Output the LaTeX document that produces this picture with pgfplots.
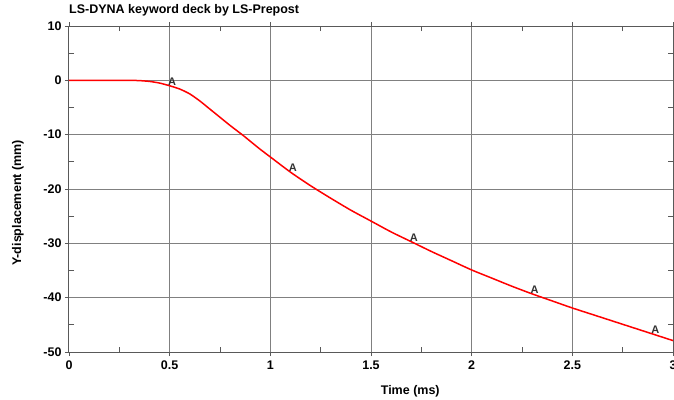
\documentclass[border=0pt]{standalone}
\usepackage{fontspec}
\setmainfont{Liberation Sans}
\usepackage{pgfplots}
\pgfplotsset{compat=1.18}
\begin{document}
\begin{tikzpicture}
\useasboundingbox (-69pt,-47pt) rectangle (605pt,352pt);
\clip (-69pt,-47pt) rectangle (605pt,352pt);
\begin{axis}[
  at={(0,0)}, anchor=south west,
  scale only axis, width=604pt, height=326pt,
  xmin=0, xmax=3, ymin=-50, ymax=10,
  xtick={0,0.5,1,1.5,2,2.5,3},
  xticklabels={0,0.5,1,1.5,2,2.5,3},
  ytick={-50,-40,-30,-20,-10,0,10},
  yticklabels={-50,-40,-30,-20,-10,0,10},
  minor xtick={0.25,0.75,1.25,1.75,2.25,2.75},
  minor ytick={-45,-35,-25,-15,-5,5},
  grid=major,
  major grid style={black!50, line width=1pt},
  axis line style={black!65, line width=1pt},
  tick align=outside,
  major tick length=4pt,
  minor tick length=-5pt,
  tick style={black!65, line width=0.9pt},
  every tick label/.append style={font=\bfseries\fontsize{12.5}{14}\selectfont},
  xticklabel style={yshift=-1pt},
  title={LS-DYNA keyword deck by LS-Prepost},
  title style={at={(axis description cs:0,1)}, anchor=south west, inner sep=0pt, yshift=4pt, font=\bfseries\fontsize{12.5}{14}\selectfont},
  xlabel={Time (ms)},
  xlabel style={at={(axis description cs:0.565,0)}, anchor=north, inner sep=0pt, yshift=-33pt, font=\bfseries\fontsize{12.5}{14}\selectfont},
  ylabel={Y-displacement (mm)},
  ylabel style={at={(axis description cs:-0.0845,0.457)}, anchor=center, font=\bfseries\fontsize{12.5}{14}\selectfont},
  clip=true,
]
\addplot[red, line width=1.5pt, smooth, tension=0.4] coordinates {
(0,0) (0.1,0) (0.2,0) (0.3,0) (0.35,-0.05) (0.4,-0.2) (0.45,-0.5) (0.5,-1.0)
(0.55,-1.6) (0.6,-2.5) (0.65,-3.8) (0.7,-5.3) (0.75,-6.8) (0.8,-8.3)
(0.867,-10.2) (0.9,-11.2) (0.95,-12.7) (1.0,-14.1) (1.1,-16.9) (1.2,-19.4) (1.3,-21.7)
(1.4,-23.9) (1.5,-25.9) (1.6,-27.9) (1.7,-29.7) (1.8,-31.5) (1.9,-33.2)
(2.0,-34.9) (2.1,-36.4) (2.2,-37.9) (2.3,-39.3) (2.4,-40.6) (2.5,-41.9)
(2.6,-43.1) (2.7,-44.3) (2.8,-45.5) (2.9,-46.7) (3.0,-47.9)
};
\addplot[only marks, mark=none,
  nodes near coords={A},
  nodes near coords style={anchor=south, inner sep=0pt, xshift=2.5pt, yshift=0pt, text=black!80, font=\bfseries\fontsize{11}{12}\selectfont}]
coordinates {(0.5,-1.0) (1.1,-16.9) (1.7,-29.7) (2.3,-39.3) (2.9,-46.7)};
\end{axis}
\end{tikzpicture}
\end{document}
